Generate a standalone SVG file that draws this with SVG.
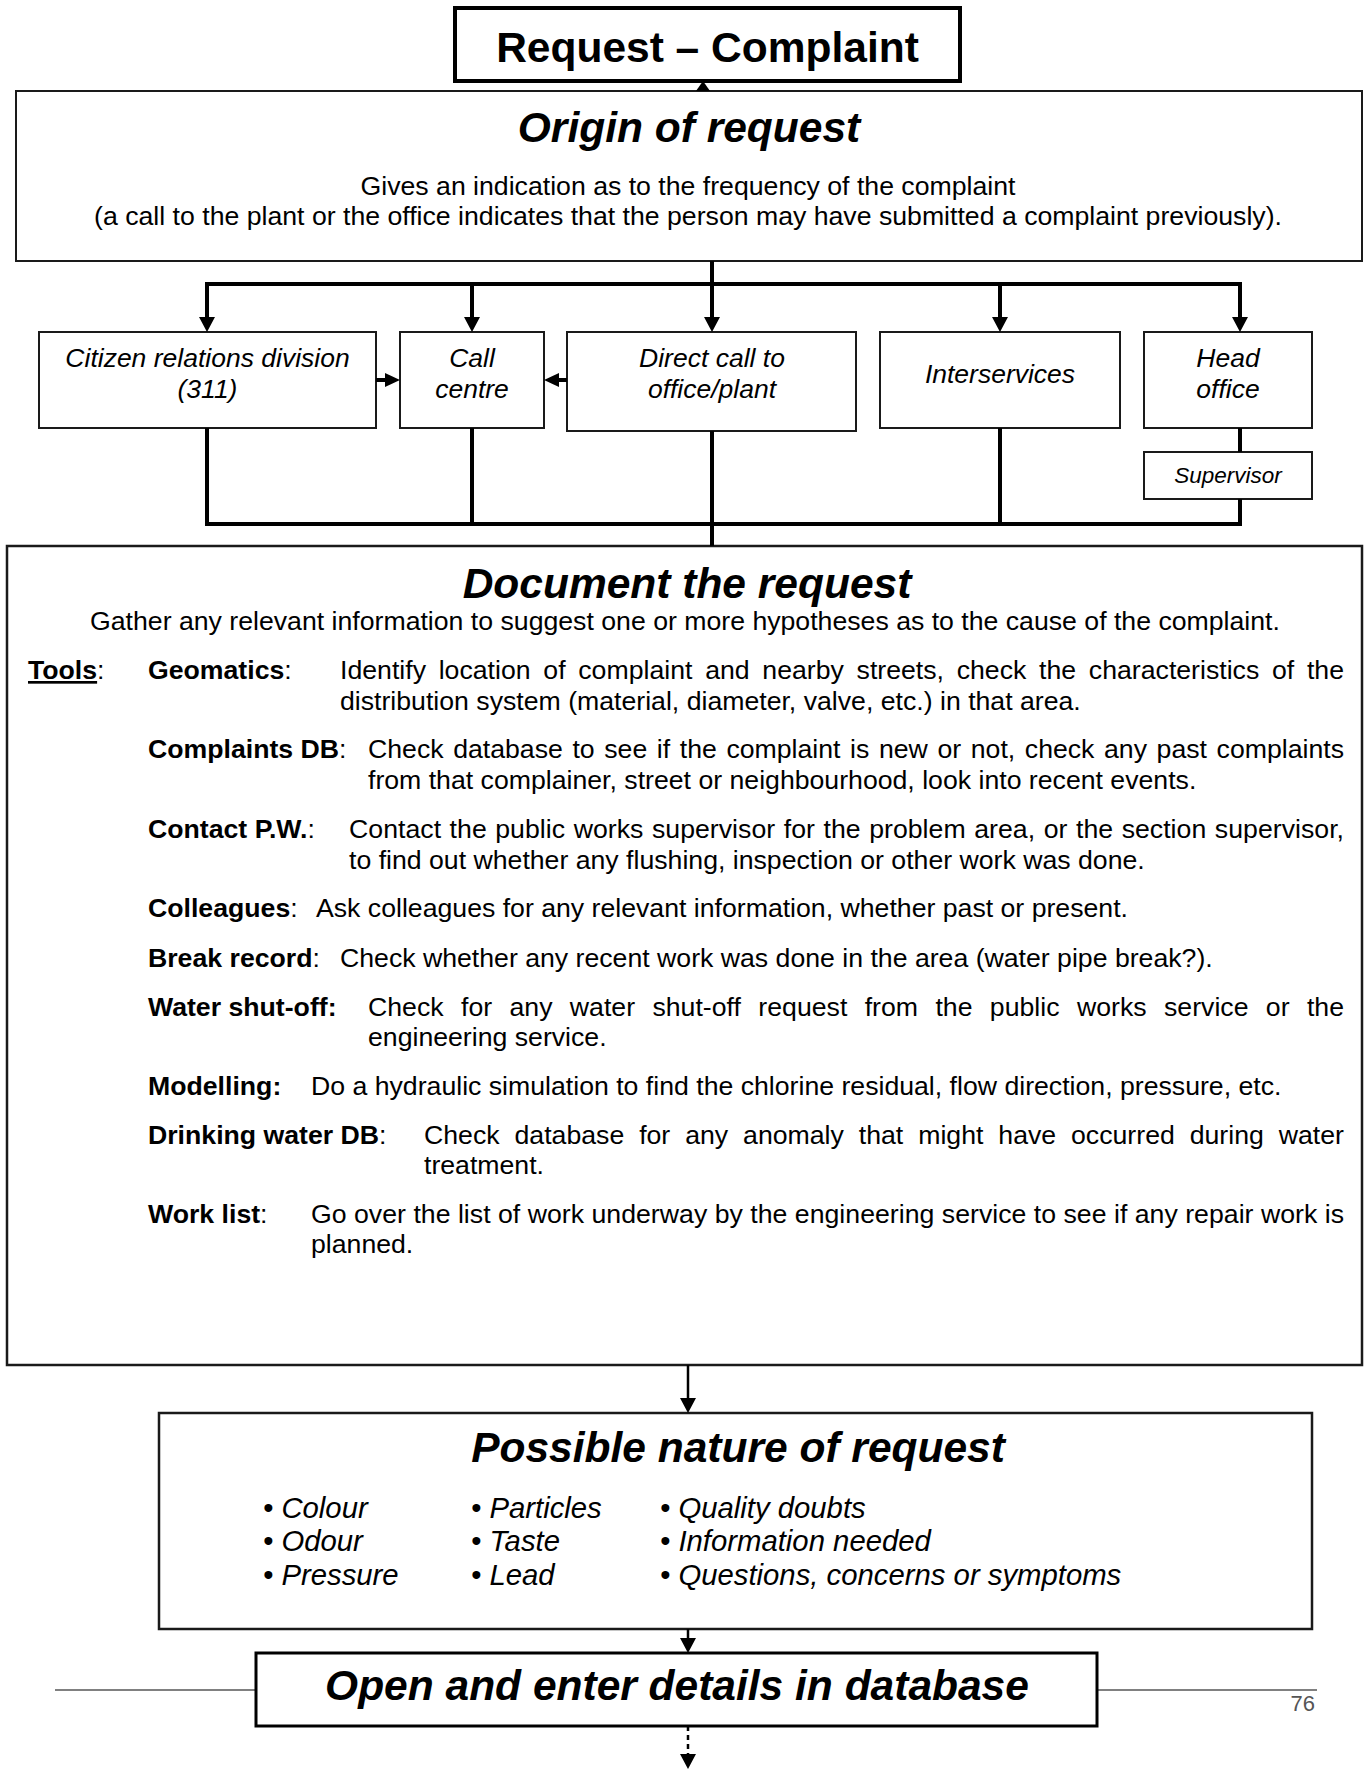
<svg xmlns="http://www.w3.org/2000/svg" width="1364" height="1769" viewBox="0 0 1364 1769">
<style>
text{font-family:"Liberation Sans",Arial,Helvetica,sans-serif;fill:#000}
.h{font-size:42.5px;font-weight:bold;font-style:italic;text-anchor:middle}
.ttl{font-size:42.5px;font-weight:bold;text-anchor:middle}
.body{font-size:26.67px}
.c{text-anchor:middle}
.b{font-weight:bold}
.u{text-decoration:underline}
.n{font-size:26.5px;font-style:italic;text-anchor:middle}
.s{font-size:22.5px;font-style:italic;text-anchor:middle}
.li{font-size:29.3px;font-style:italic}
.box{fill:#fff;stroke:#1a1a1a;stroke-width:2}
.big{fill:#fff;stroke:#1a1a1a;stroke-width:2.5}
.conn{stroke:#000;stroke-width:4;fill:none}
.thin{stroke:#000;stroke-width:2.5;fill:none}
.rule{stroke:#808080;stroke-width:2;fill:none}
.pg{font-size:22px;fill:#555;text-anchor:end}
</style>
<defs>
<marker id="ah" viewBox="0 0 10 10" refX="0" refY="5" markerWidth="15" markerHeight="16" markerUnits="userSpaceOnUse" orient="auto" preserveAspectRatio="none">
<path d="M0,0 L10,5 L0,10 z" fill="#000"/>
</marker>
<marker id="ahs" viewBox="0 0 10 10" refX="0" refY="5" markerWidth="15" markerHeight="14" markerUnits="userSpaceOnUse" orient="auto" preserveAspectRatio="none">
<path d="M0,0 L10,5 L0,10 z" fill="#000"/>
</marker>
</defs>
<rect width="1364" height="1769" fill="#fff"/>

<g id="page-rule">
<path class="rule" d="M55,1690 H256 M1097,1690 H1317"/>
<text class="pg" x="1315" y="1711">76</text>
</g>

<g id="title">
<rect x="455" y="8" width="505" height="73" fill="#fff" stroke="#000" stroke-width="4"/>
<text class="ttl" x="707.5" y="62">Request – Complaint</text>
</g>

<g id="origin">
<rect class="box" x="16" y="91" width="1346" height="170"/>
<text class="h" x="689" y="142">Origin of request</text>
<text class="body c" x="688" y="195">Gives an indication as to the frequency of the complaint</text>
<text class="body c" x="688" y="225">(a call to the plant or the office indicates that the person may have submitted a complaint previously).</text>
</g>

<g id="citizen">
<rect class="box" x="39" y="332" width="337" height="96"/>
<text class="n" x="207.5" y="367">Citizen relations division</text>
<text class="n" x="207.5" y="398">(311)</text>
</g>
<g id="call-centre">
<rect class="box" x="400" y="332" width="144" height="96"/>
<text class="n" x="472" y="367">Call</text>
<text class="n" x="472" y="398">centre</text>
</g>
<g id="direct-call">
<rect class="box" x="567" y="332" width="289" height="99"/>
<text class="n" x="712" y="367">Direct call to</text>
<text class="n" x="712" y="398">office/plant</text>
</g>
<g id="interservices">
<rect class="box" x="880" y="332" width="240" height="96"/>
<text class="n" x="1000" y="383">Interservices</text>
</g>
<g id="head-office">
<rect class="box" x="1144" y="332" width="168" height="96"/>
<text class="n" x="1228" y="367">Head</text>
<text class="n" x="1228" y="398">office</text>
</g>
<g id="supervisor">
<rect class="box" x="1144" y="452" width="168" height="47"/>
<text class="s" x="1228" y="483">Supervisor</text>
</g>

<g id="document">
<rect class="big" x="7" y="546" width="1355" height="819"/>
<text class="h" x="687" y="598">Document the request</text>
<text class="body c" x="685" y="630">Gather any relevant information to suggest one or more hypotheses as to the cause of the complaint.</text>
<g class="body">
<text x="28" y="679"><tspan class="b u">Tools</tspan>:</text>
<text x="148" y="679"><tspan class="b">Geomatics</tspan>:</text>
<text x="340" y="679" word-spacing="5.3" textLength="1004" lengthAdjust="spacing">Identify location of complaint and nearby streets, check the characteristics of the</text>
<text x="340" y="710">distribution system (material, diameter, valve, etc.) in that area.</text>

<text x="148" y="758"><tspan class="b">Complaints DB</tspan>:</text>
<text x="368" y="758" word-spacing="2.2" textLength="976" lengthAdjust="spacing">Check database to see if the complaint is new or not, check any past complaints</text>
<text x="368" y="789">from that complainer, street or neighbourhood, look into recent events.</text>

<text x="148" y="838"><tspan class="b">Contact P.W.</tspan>:</text>
<text x="349" y="838" word-spacing="1.1" textLength="995" lengthAdjust="spacing">Contact the public works supervisor for the problem area, or the section supervisor,</text>
<text x="349" y="869">to find out whether any flushing, inspection or other work was done.</text>

<text x="148" y="917"><tspan class="b">Colleagues</tspan>:</text>
<text x="316" y="917">Ask colleagues for any relevant information, whether past or present.</text>

<text x="148" y="967"><tspan class="b">Break record</tspan>:</text>
<text x="340" y="967">Check whether any recent work was done in the area (water pipe break?).</text>

<text x="148" y="1016"><tspan class="b">Water shut-off:</tspan></text>
<text x="368" y="1016" word-spacing="9.9" textLength="976" lengthAdjust="spacing">Check for any water shut-off request from the public works service or the</text>
<text x="368" y="1046">engineering service.</text>

<text x="148" y="1095"><tspan class="b">Modelling:</tspan></text>
<text x="311" y="1095">Do a hydraulic simulation to find the chlorine residual, flow direction, pressure, etc.</text>

<text x="148" y="1144"><tspan class="b">Drinking water DB</tspan>:</text>
<text x="424" y="1144" word-spacing="7.5" textLength="920" lengthAdjust="spacing">Check database for any anomaly that might have occurred during water</text>
<text x="424" y="1174">treatment.</text>

<text x="148" y="1223"><tspan class="b">Work list</tspan>:</text>
<text x="311" y="1223" textLength="1033" lengthAdjust="spacing">Go over the list of work underway by the engineering service to see if any repair work is</text>
<text x="311" y="1253">planned.</text>
</g>
</g>

<g id="possible-nature">
<rect class="big" x="159" y="1413" width="1153" height="216"/>
<text class="h" x="738" y="1462">Possible nature of request</text>
<g class="li">
<text x="263" y="1518">• Colour</text>
<text x="263" y="1551">• Odour</text>
<text x="263" y="1585">• Pressure</text>
<text x="471" y="1518">• Particles</text>
<text x="471" y="1551">• Taste</text>
<text x="471" y="1585">• Lead</text>
<text x="660" y="1518">• Quality doubts</text>
<text x="660" y="1551">• Information needed</text>
<text x="660" y="1585">• Questions, concerns or symptoms</text>
</g>
</g>

<g id="open-database">
<rect x="256" y="1653" width="841" height="73" fill="#fff" stroke="#000" stroke-width="3"/>
<text class="h" x="677" y="1700">Open and enter details in database</text>
</g>

<g id="connectors">
<polygon points="696,91 710,91 703,81" fill="#000"/>
<path class="conn" d="M207,284 H1240" stroke-linecap="square"/>
<path class="conn" d="M207,284 V317" marker-end="url(#ah)"/>
<path class="conn" d="M472,284 V317" marker-end="url(#ah)"/>
<path class="conn" d="M712,261 V317" marker-end="url(#ah)"/>
<path class="conn" d="M1000,284 V317" marker-end="url(#ah)"/>
<path class="conn" d="M1240,284 V317" marker-end="url(#ah)"/>
<path class="conn" d="M376,380 H385" marker-end="url(#ahs)"/>
<path class="conn" d="M567,380 H559" marker-end="url(#ahs)"/>
<path class="conn" d="M207,524 H1240" stroke-linecap="square"/>
<path class="conn" d="M207,428 V524"/>
<path class="conn" d="M472,428 V524"/>
<path class="conn" d="M712,431 V546"/>
<path class="conn" d="M1000,428 V524"/>
<path class="conn" d="M1240,428 V452"/>
<path class="conn" d="M1240,499 V524"/>
<path class="thin" d="M688,1365 V1398" marker-end="url(#ah)"/>
<path class="thin" d="M688,1629 V1638" marker-end="url(#ah)"/>
<path class="thin" d="M688,1726 V1754" stroke-width="3" stroke-dasharray="5,4" marker-end="url(#ah)"/>
</g>
</svg>
